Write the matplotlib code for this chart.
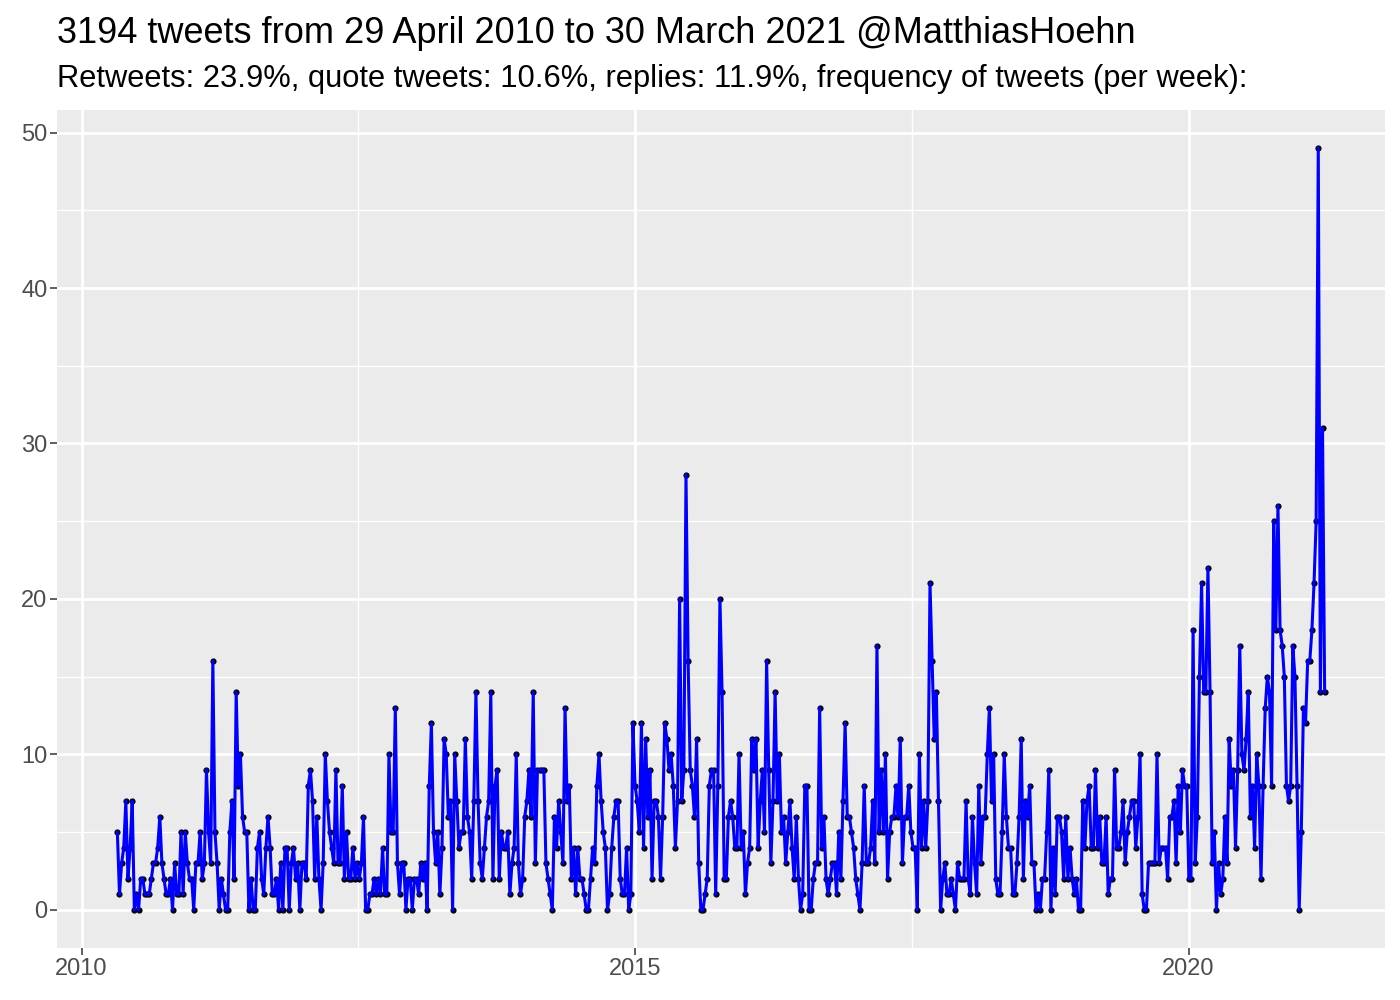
import numpy as np
import pandas as pd
import matplotlib
matplotlib.use("Agg")
import matplotlib.pyplot as plt
import matplotlib.dates as mdates

plt.rcParams['font.family'] = ['Liberation Sans', 'DejaVu Sans']

title = "3194 tweets from 29 April 2010 to 30 March 2021 @MatthiasHoehn"
subtitle = ("Retweets: 23.9%, quote tweets: 10.6%, replies: 11.9%, "
            "frequency of tweets (per week):")

first_week = "2010-04-29"

# tweets per week in chunks of roughly one year
counts_2010 = [5, 1, 3, 4, 7, 2, 4, 7, 0, 1, 0, 2, 2, 1, 1, 1, 2, 3, 3, 4, 6, 3, 2, 1, 1,
               2, 0, 3, 1, 1, 5, 1, 5, 3, 2, 2, 0, 3, 3, 5, 2, 3, 9, 5, 3, 16, 5, 3, 0]
counts_2011 = [2, 1, 0, 0, 5, 7, 2, 14, 8, 10, 6, 5, 5, 0, 2, 0, 0, 4, 5, 2, 1, 4, 6, 4, 1,
               1, 2, 0, 3, 0, 4, 4, 0, 3, 4, 2, 3, 0, 3, 3, 2, 8, 9, 7, 2, 6, 2, 0, 3, 10, 7, 5]
counts_2012 = [4, 3, 9, 3, 3, 8, 2, 5, 2, 2, 4, 2, 3, 2, 3, 6, 0, 0, 1, 1, 2, 1, 2, 1, 4, 1,
               1, 10, 5, 5, 13, 3, 1, 3, 3, 0, 2, 2, 0, 2, 2, 1, 3, 2, 3, 0, 8, 12, 5, 3, 5, 1]
counts_2013 = [4, 11, 10, 6, 7, 0, 10, 7, 4, 5, 5, 11, 6, 5, 2, 7, 14, 7, 3, 2, 4, 6, 7, 14,
               2, 8, 9, 2, 5, 4, 4, 5, 1, 3, 4, 10, 3, 1, 2, 6, 7, 9, 6, 14, 3, 9, 9, 9, 9, 3, 2, 1]
counts_2014 = [0, 6, 4, 7, 5, 3, 13, 7, 8, 2, 4, 1, 4, 2, 2, 1, 0, 0, 2, 4, 3, 8, 10, 7, 5, 4,
               0, 1, 4, 6, 7, 7, 2, 1, 1, 4, 0, 1, 12, 8, 7, 5, 12, 4, 11, 6, 9, 2, 7, 7, 6, 2]
counts_2015 = [6, 12, 11, 9, 10, 8, 4, 7, 20, 7, 9, 28, 16, 9, 8, 6, 11, 3, 0, 0, 1, 2, 8, 9,
               9, 1, 8, 20, 14, 2, 2, 6, 7, 6, 4, 4, 10, 4, 5, 1, 3, 4, 11, 9, 11, 4, 7, 9, 5, 16, 9, 3]
counts_2016 = [7, 14, 7, 10, 5, 6, 3, 5, 7, 4, 2, 6, 2, 0, 1, 8, 8, 0, 0, 2, 3, 3, 13, 4, 6, 2,
               1, 2, 3, 3, 1, 5, 2, 7, 12, 6, 6, 5, 4, 2, 1, 0, 3, 8, 3, 3, 4, 7, 3, 17, 5, 9]
counts_2017 = [5, 10, 2, 5, 6, 6, 8, 6, 11, 3, 6, 6, 8, 5, 4, 4, 0, 10, 4, 7, 4, 7, 21, 16, 11,
               14, 7, 0, 2, 3, 1, 1, 2, 1, 0, 3, 2, 2, 2, 7, 2, 1, 6, 3, 1, 8, 3, 6, 6, 10, 13, 7]
counts_2018 = [10, 2, 1, 1, 5, 10, 6, 4, 4, 1, 1, 3, 6, 11, 2, 7, 6, 8, 3, 3, 0, 1, 0, 2, 2, 5,
               9, 0, 4, 1, 6, 6, 5, 2, 6, 2, 4, 2, 1, 2, 0, 0, 7, 4, 7, 8, 4, 4, 9, 4, 6, 3]
counts_2019 = [3, 6, 1, 2, 2, 9, 4, 4, 5, 7, 3, 5, 6, 7, 7, 4, 6, 10, 1, 0, 0, 3, 3, 3, 3, 10,
               3, 4, 4, 4, 2, 6, 6, 7, 3]
counts_2020 = [8, 5, 9, 8, 8, 2, 2, 18, 3, 6, 15, 21, 14, 14, 22, 14, 3, 5, 0, 3, 1, 2, 6, 3,
               11, 8, 9, 4, 9, 17, 10, 9, 11, 14, 6]
counts_2021 = [8, 4, 10, 8, 2, 8, 13, 15, 14, 8, 25, 18, 26, 18, 17, 15, 8, 7, 8, 17, 15, 8, 0,
               5, 13, 12, 16, 16, 18, 21, 25, 49, 14, 31, 14]

counts = (counts_2010 + counts_2011 + counts_2012 + counts_2013 + counts_2014 +
          counts_2015 + counts_2016 + counts_2017 + counts_2018 + counts_2019 +
          counts_2020 + counts_2021)
weeks = pd.date_range(first_week, periods=len(counts), freq="7D")

fig = plt.figure(figsize=(14, 10), dpi=100)
ax = fig.add_axes([57/1400, 52/1000, 1328/1400, 838/1000])
ax.set_facecolor('#EBEBEB')

ax.scatter(weeks, counts, s=20, color='black', zorder=3, linewidths=0)
ax.plot(weeks, counts, color='blue', lw=2.2, zorder=4)

# ggplot-like 5% expansion
xn = mdates.date2num(weeks)
pad = 0.05 * (xn[-1] - xn[0])
ax.set_xlim(xn[0] - pad, xn[-1] + pad)
ymax = max(counts)
ax.set_ylim(-0.05 * ymax, ymax * 1.05)

ax.set_xticks(mdates.date2num(pd.to_datetime(["2010-01-01", "2015-01-01", "2020-01-01"])))
ax.set_xticklabels(["2010", "2015", "2020"])
ax.set_xticks(mdates.date2num(pd.to_datetime(["2012-07-02", "2017-07-02"])), minor=True)
ax.set_yticks([0, 10, 20, 30, 40, 50])
ax.set_yticks([5, 15, 25, 35, 45], minor=True)

ax.grid(which='major', color='white', lw=2.0)
ax.grid(which='minor', color='white', lw=1.0)
ax.set_axisbelow(True)
for s in ax.spines.values():
    s.set_visible(False)
ax.tick_params(which='major', length=5, width=1.1, color='#333333',
               labelcolor='#4D4D4D', labelsize=17, pad=2)
ax.tick_params(which='minor', length=0)

fig.text(57/1400, 1 - 43/1000, title, fontsize=26, va='baseline', ha='left')
fig.text(57/1400, 1 - 87/1000, subtitle, fontsize=22.2, va='baseline', ha='left')

fig.savefig("out.png", dpi=100)
